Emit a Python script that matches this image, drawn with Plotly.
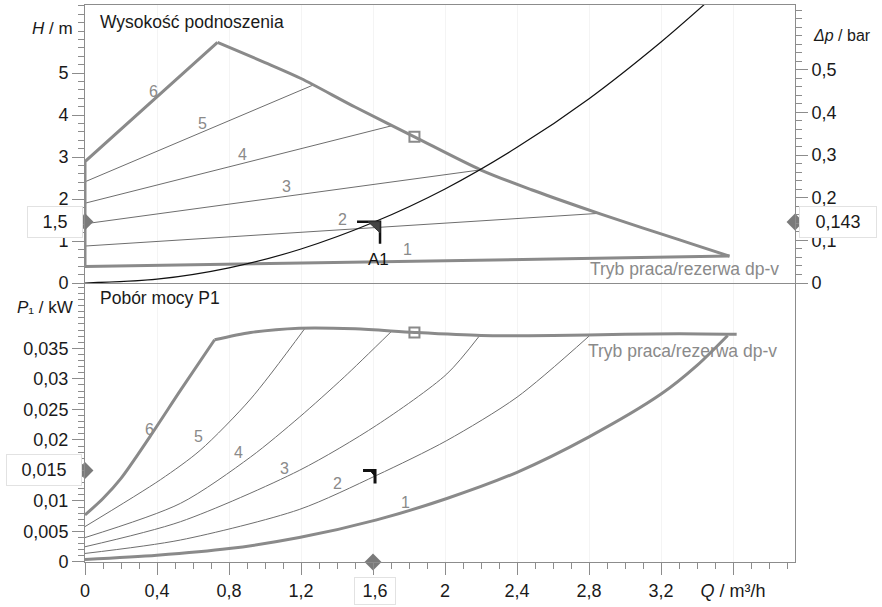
import plotly.graph_objects as go

# ---------------- data ----------------
Q_MAX = 3.944
H_MAX = 6.62
DP_MAX = 0.652
P_MAX = 0.0457

# x ticks
x_tick_vals = [0, 0.4, 0.8, 1.2, 1.6, 2.0, 2.4, 2.8, 3.2, 3.6]
x_tick_text = ["0", "0,4", "0,8", "1,2", "", "2", "2,4", "2,8", "3,2", "<i>Q</i> / m³/h"]
h_tick_vals = [0, 1, 2, 3, 4, 5]
h_tick_text = ["0", "1", "2", "3", "4", "5"]
dp_tick_vals = [0, 0.1, 0.2, 0.3, 0.4, 0.5]
dp_tick_text = ["0", "0,1", "0,2", "0,3", "0,4", "0,5"]
p_tick_vals = [0, 0.005, 0.01, 0.015, 0.02, 0.025, 0.03, 0.035]
p_tick_text = ["0", "0,005", "0,01", "", "0,02", "0,025", "0,03", "0,035"]

# system curve (black)
sys_Q = [0, 0.4, 0.8, 1.2, 1.6, 2.0, 2.4, 2.8, 3.2, 3.45]
sys_H = [0, 0.09, 0.36, 0.81, 1.44, 2.24, 3.23, 4.39, 5.74, 6.67]

# head curves
h6_Q = [0, 0, 0.736, 1.0, 1.2, 1.5, 1.83, 2.2, 2.48, 2.75, 3.0, 3.2, 3.4, 3.58]
h6_H = [0.39, 2.89, 5.73, 5.25, 4.87, 4.19, 3.48, 2.69, 2.22, 1.81, 1.45, 1.17, 0.89, 0.64]
h1_Q = [0, 3.58]
h1_H = [0.39, 0.64]
h2_Q = [0, 2.86]
h2_H = [0.88, 1.66]
h3_Q = [0, 2.19]
h3_H = [1.41, 2.69]
h4_Q = [0, 1.70]
h4_H = [1.90, 3.74]
h5_Q = [0, 1.265]
h5_H = [2.41, 4.71]

# power curves
p6_Q = [0, 0.1, 0.2, 0.36, 0.53, 0.72, 0.92, 1.19, 1.5, 1.83, 2.2, 2.6, 3.0, 3.3, 3.62]
p6_P = [0.0077, 0.0104, 0.0137, 0.0205, 0.0281, 0.0364, 0.0376, 0.0383, 0.0382, 0.0376, 0.0371, 0.0371, 0.0373, 0.0374, 0.0373]
p1_Q = [0, 0.4, 0.8, 1.19, 1.62, 2.01, 2.4, 2.8, 3.2, 3.4, 3.57]
p1_P = [0.0004, 0.0011, 0.0022, 0.0040, 0.0069, 0.0104, 0.0147, 0.0205, 0.0275, 0.0322, 0.0371]
p2_Q = [0, 0.53, 1.19, 1.62, 2.01, 2.40, 2.80]
p2_P = [0.0014, 0.0036, 0.0086, 0.0142, 0.0199, 0.0270, 0.0370]
p3_Q = [0, 0.53, 1.19, 1.62, 2.01, 2.19]
p3_P = [0.0025, 0.0066, 0.0150, 0.0224, 0.0308, 0.0370]
p4_Q = [0, 0.53, 0.92, 1.19, 1.44, 1.70]
p4_P = [0.0040, 0.0096, 0.0172, 0.0237, 0.0303, 0.0377]
p5_Q = [0, 0.42, 0.64, 0.92, 1.22]
p5_P = [0.0058, 0.0135, 0.0183, 0.0267, 0.0382]

# operating point / markers
op_Q = 1.6
op_H = 1.46
op_dp = 0.143
op_P = 0.015
sq_Q = 1.83
sq_H = 3.48
sq_P = 0.0376

# curve labels
lab_text = ["6", "5", "4", "3", "2", "1"]
lab_top_Q = [0.383, 0.65, 0.875, 1.12, 1.43, 1.79]
lab_top_H = [4.55, 3.81, 3.07, 2.29, 1.52, 0.79]
lab_bot_Q = [0.36, 0.633, 0.85, 1.11, 1.405, 1.78]
lab_bot_P = [0.0217, 0.0206, 0.018, 0.0153, 0.0129, 0.0098]

# ---------------- figure ----------------
FONT = "Liberation Sans, Arial, sans-serif"
THICK = "#8a8a8a"
THIN = "#6e6e6e"
AX = "#8c8c8c"

fig = go.Figure()

def line(x, y, xa, ya, color, width, shape="linear"):
    fig.add_trace(go.Scatter(x=x, y=y, xaxis=xa, yaxis=ya, mode="lines",
                             line=dict(color=color, width=width, shape=shape, smoothing=0.8),
                             hoverinfo="skip", showlegend=False))

# top panel
for qx, hy in [(h2_Q, h2_H), (h3_Q, h3_H), (h4_Q, h4_H), (h5_Q, h5_H)]:
    line(qx, hy, "x2", "y2", THIN, 1)
line(h1_Q, h1_H, "x2", "y2", THICK, 3)
line(h6_Q[:3], h6_H[:3], "x2", "y2", THICK, 3)
line(h6_Q[2:], h6_H[2:], "x2", "y2", THICK, 3, "spline")
line(sys_Q, sys_H, "x2", "y2", "#111111", 1.2, "spline")

# bottom panel
for qx, py in [(p2_Q, p2_P), (p3_Q, p3_P), (p4_Q, p4_P), (p5_Q, p5_P)]:
    line(qx, py, "x", "y", THIN, 1, "spline")
line(p1_Q, p1_P, "x", "y", THICK, 3, "spline")
line(p6_Q[:6], p6_P[:6], "x", "y", THICK, 3, "spline")
line(p6_Q[5:], p6_P[5:], "x", "y", THICK, 3, "spline")

# square markers
for xa, ya, yv in [("x2", "y2", sq_H), ("x", "y", sq_P)]:
    fig.add_trace(go.Scatter(x=[sq_Q], y=[yv], xaxis=xa, yaxis=ya, mode="markers",
                             marker=dict(symbol="square-open", size=10, color="#8a8a8a",
                                         line=dict(width=2, color="#8a8a8a")),
                             hoverinfo="skip", showlegend=False))

# diamonds
dia = dict(symbol="diamond", size=13, color="#7a7a7a")
for xv, yv, xa, ya in [(0, op_H, "x2", "y2"), (Q_MAX, op_dp, "x2", "y3"),
                       (0, op_P, "x", "y"), (op_Q, 0, "x", "y")]:
    fig.add_trace(go.Scatter(x=[xv], y=[yv], xaxis=xa, yaxis=ya, mode="markers",
                             marker=dia, cliponaxis=False, hoverinfo="skip", showlegend=False))

split = 0.5009
tickfont = dict(family=FONT, size=18, color="#1a1a1a")
fig.update_layout(
    width=882, height=607,
    margin=dict(l=85, r=87, t=5, b=45),
    plot_bgcolor="white", paper_bgcolor="white",
    separators=", ",
    font=dict(family=FONT, size=17, color="#1a1a1a"),
    xaxis=dict(domain=[0, 1], anchor="y", range=[0, Q_MAX], showline=True, linecolor=AX,
               ticks="outside", ticklen=12, tickcolor=AX, tickmode="array",
               tickvals=x_tick_vals, ticktext=x_tick_text, tickfont=tickfont,
               showgrid=True, gridcolor="#f4f4f4", zeroline=False,
               minor=dict(dtick=0.1, tick0=0, ticks="outside", ticklen=6, tickcolor=AX,
                          showgrid=False)),
    xaxis2=dict(domain=[0, 1], anchor="y2", range=[0, Q_MAX], matches="x", showline=True,
                mirror=True, linecolor=AX, showticklabels=False, ticks="",
                tickvals=x_tick_vals, showgrid=True, gridcolor="#f4f4f4", zeroline=False),
    yaxis=dict(domain=[0, split], anchor="x", range=[0, P_MAX], showline=True, mirror=True,
               linecolor=AX, ticks="outside", ticklen=12, tickcolor=AX, tickmode="array",
               tickvals=p_tick_vals, ticktext=p_tick_text, tickfont=tickfont,
               showgrid=False, zeroline=False,
               minor=dict(dtick=0.001, tick0=0, ticks="outside", ticklen=6, tickcolor=AX,
                          showgrid=False)),
    yaxis2=dict(domain=[split, 1], anchor="x2", range=[0, H_MAX], showline=True,
                linecolor=AX, ticks="outside", ticklen=12, tickcolor=AX, tickmode="array",
                tickvals=h_tick_vals, ticktext=h_tick_text, tickfont=tickfont,
                showgrid=False, zeroline=False,
                minor=dict(dtick=0.2, tick0=0, ticks="outside", ticklen=6, tickcolor=AX,
                           showgrid=False)),
    yaxis3=dict(overlaying="y2", side="right", anchor="x2", range=[0, DP_MAX], showline=True,
                linecolor=AX, ticks="outside", ticklen=12, tickcolor=AX, tickmode="array",
                tickvals=dp_tick_vals, ticktext=dp_tick_text, tickfont=tickfont,
                showgrid=False, zeroline=False,
                minor=dict(dtick=0.02, tick0=0, ticks="outside", ticklen=6, tickcolor=AX,
                           showgrid=False)),
)

ann = []
gray = dict(family=FONT, size=16, color="#8a8a8a")
for t, qx, hy in zip(lab_text, lab_top_Q, lab_top_H):
    ann.append(dict(x=qx, y=hy, xref="x2", yref="y2", text=t, showarrow=False, font=gray))
for t, qx, py in zip(lab_text, lab_bot_Q, lab_bot_P):
    ann.append(dict(x=qx, y=py, xref="x", yref="y", text=t, showarrow=False, font=gray))

ann += [
    dict(x=0, y=1, xref="paper", yref="paper", xanchor="left", yanchor="top", xshift=13, yshift=-5,
         text="Wysokość podnoszenia", showarrow=False, font=dict(family=FONT, size=17.5, color="#1a1a1a")),
    dict(x=0, y=split, xref="paper", yref="paper", xanchor="left", yanchor="top", xshift=13, yshift=-3,
         text="Pobór mocy P1", showarrow=False, font=dict(family=FONT, size=17.5, color="#1a1a1a")),
    dict(x=0, y=1, xref="paper", yref="paper", xanchor="right", yanchor="middle", xshift=-10, yshift=-23,
         text="<i>H</i> / m", showarrow=False),
    dict(x=1, y=1, xref="paper", yref="paper", xanchor="left", yanchor="middle", xshift=16, yshift=-30,
         text="<i>Δp</i> / bar", showarrow=False, font=dict(family=FONT, size=16, color="#1a1a1a")),
    dict(x=0, y=0.0417, xref="paper", yref="y", xanchor="right", yanchor="middle", xshift=-10,
         text="<i>P</i>₁ / kW", showarrow=False),
    dict(x=1, y=0, xref="paper", yref="y2", xanchor="right", yanchor="bottom", xshift=-14, yshift=2,
         text="Tryb praca/rezerwa dp-v", showarrow=False, font=dict(family=FONT, size=17.5, color="#8a8a8a")),
    dict(x=1, y=0.0373, xref="paper", yref="y", xanchor="right", yanchor="top", xshift=-16, yshift=-5,
         text="Tryb praca/rezerwa dp-v", showarrow=False, font=dict(family=FONT, size=17.5, color="#8a8a8a")),
    dict(x=op_Q, y=op_H, xref="x2", yref="y2", xshift=5, yshift=-38, text="A1", showarrow=False,
         font=dict(family=FONT, size=17, color="#111111")),
    # boxed values
    dict(x=0, y=op_H, xref="x2", yref="y2", xanchor="right", xshift=-2, text="1,5", showarrow=False,
         width=52, height=28, bgcolor="white", bordercolor="#e2e2e2", borderwidth=1,
         font=dict(family=FONT, size=18, color="#1a1a1a")),
    dict(x=1, y=op_dp, xref="paper", yref="y3", xanchor="left", xshift=4, text="0,143", showarrow=False,
         width=74, height=28, bgcolor="white", bordercolor="#e2e2e2", borderwidth=1,
         font=dict(family=FONT, size=18, color="#1a1a1a")),
    dict(x=0, y=op_P, xref="x", yref="y", xanchor="right", yanchor="middle", xshift=-3, text="0,015",
         showarrow=False, width=72, height=28, bgcolor="white", bordercolor="#e2e2e2", borderwidth=1,
         font=dict(family=FONT, size=18, color="#1a1a1a")),
    dict(x=op_Q, y=0, xref="x", yref="paper", yanchor="top", yshift=-15, xshift=2, text="1,6", showarrow=False,
         width=38, height=24, bgcolor="white", bordercolor="#e2e2e2", borderwidth=1,
         font=dict(family=FONT, size=18, color="#1a1a1a")),
]
fig.update_layout(annotations=ann)

shapes = [
    dict(type="path", xref="x2", yref="y2", xsizemode="pixel", ysizemode="pixel",
         xanchor=op_Q, yanchor=op_H, path="M -16,0 L 7,0 L 7,-22",
         line=dict(color="#111111", width=2.5)),
    dict(type="path", xref="x2", yref="y2", xsizemode="pixel", ysizemode="pixel",
         xanchor=op_Q, yanchor=op_H, path="M -5,0 L 7,0 L 7,-11 Z",
         line=dict(color="#333333", width=1), fillcolor="#444444"),
    dict(type="path", xref="x", yref="y", xsizemode="pixel", ysizemode="pixel",
         xanchor=op_Q, yanchor=op_P, path="M -10,0 L 2,0 L 2,-13",
         line=dict(color="#111111", width=3)),
    dict(type="path", xref="x", yref="y", xsizemode="pixel", ysizemode="pixel",
         xanchor=op_Q, yanchor=op_P, path="M -3,0 L 2,0 L 2,-6 Z",
         line=dict(color="#111111", width=1), fillcolor="#111111"),
]
fig.update_layout(shapes=shapes)

fig.write_html("out.html", config={"displayModeBar": False},
               post_script="document.body.style.margin='0px';")
